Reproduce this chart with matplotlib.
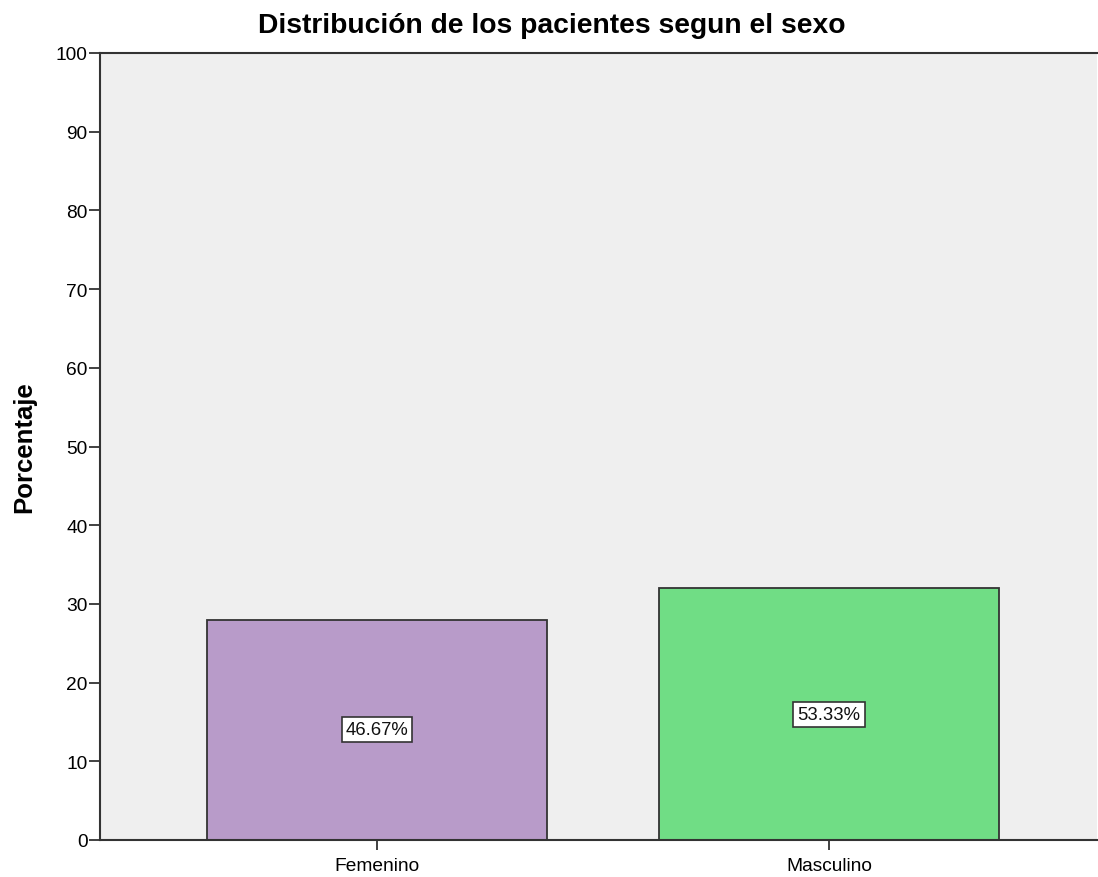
import matplotlib
matplotlib.use("Agg")
import matplotlib.pyplot as plt

categories = ["Femenino", "Masculino"]
values = [28, 32]
labels = ["46.67%", "53.33%"]
colors = ["#B89BC9", "#70DD85"]
yticks = list(range(0, 101, 10))

plt.rcParams['font.family'] = ['Liberation Sans', 'DejaVu Sans']

fig = plt.figure(figsize=(10.98, 8.78), dpi=100)
ax = fig.add_axes([100/1098, 1 - 841/878, 997/1098, (841-54)/878])
ax.set_facecolor("#EFEFEF")

x = list(range(len(categories)))
ax.bar(x, values, width=0.752, color=colors, edgecolor="#333333", linewidth=1.3, zorder=2)
for xi, v, lab in zip(x, values, labels):
    ax.text(xi, v / 2, lab, ha="center", va="center", fontsize=13.3, color="#111111",
            bbox=dict(boxstyle="square,pad=0.22", facecolor="white", edgecolor="#333333", linewidth=1.2),
            zorder=3)

ax.set_xlim(-0.613, 1.593)
ax.set_ylim(0, 100)
ax.set_yticks(yticks)
ax.set_xticks(x)
ax.set_xticklabels(categories, fontsize=13.8)
ax.tick_params(axis="y", labelsize=13.8, length=8, width=1.3, color="#333333", pad=1)
ax.tick_params(axis="x", length=7.5, width=1.3, color="#333333", pad=5)
for s in ["left", "bottom", "top"]:
    ax.spines[s].set_color("#333333")
    ax.spines[s].set_linewidth(1.5)
ax.spines["right"].set_visible(False)

ax.set_ylabel("Porcentaje", fontsize=18.5, fontweight="bold")
ax.yaxis.set_label_coords(-0.064, 0.5)
fig.text(552/1098, 1 - 26/878, "Distribución de los pacientes segun el sexo",
         ha="center", va="center", fontsize=20.3, fontweight="bold")

fig.savefig("out.png", dpi=100)
